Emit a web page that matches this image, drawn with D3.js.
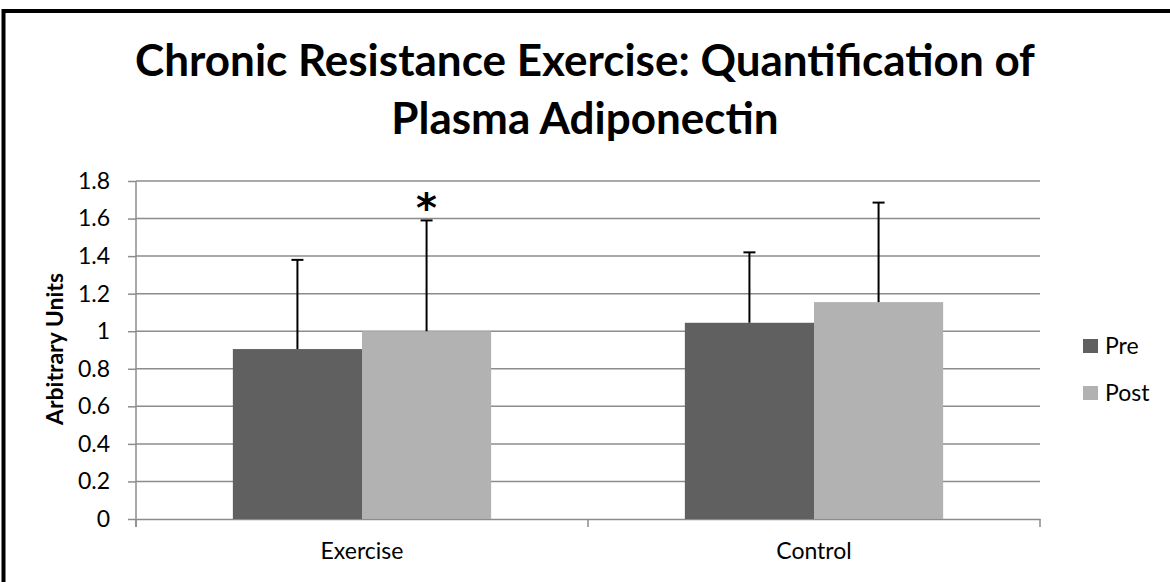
<!DOCTYPE html>
<html>
<head>
<meta charset="utf-8">
<script src="https://cdn.jsdelivr.net/npm/d3@7"></script>
<style>
  body { margin: 0; background: #fff; }
  text { font-family: Lato, "Open Sans", sans-serif; fill: #000; }
</style>
</head>
<body>
<div id="chart"></div>
<script>
// data
var groups = ["Exercise", "Control"];
var seriesNames = ["Pre", "Post"];
var preValues = [0.905, 1.045];
var postValues = [1.0, 1.155];
var preErr = [0.475, 0.375];
var postErr = [0.59, 0.53];
var yTicks = [0, 0.2, 0.4, 0.6, 0.8, 1, 1.2, 1.4, 1.6, 1.8];
var colors = ["#606060", "#b2b2b2"];

var W = 1170, H = 582;
var margin = {top: 181, right: 130, bottom: 63, left: 136},
    width = W - margin.left - margin.right,
    height = H - margin.top - margin.bottom;

var svg = d3.select("#chart").append("svg")
    .attr("width", W).attr("height", H);

// outer frame (right and bottom edges fall off the picture)
svg.append("rect")
    .attr("x", 3.5).attr("y", 11)
    .attr("width", W + 20).attr("height", H + 20)
    .attr("fill", "none").attr("stroke", "#000").attr("stroke-width", 4);

svg.append("text")
    .attr("x", 585).attr("y", 76)
    .attr("text-anchor", "middle")
    .style("font-size", "44px").style("font-weight", "bold")
    .text("Chronic Resistance Exercise: Quantification of");
svg.append("text")
    .attr("x", 585).attr("y", 134)
    .attr("text-anchor", "middle")
    .style("font-size", "44px").style("font-weight", "bold")
    .text("Plasma Adiponectin");

var g = svg.append("g")
    .attr("transform", "translate(" + margin.left + "," + margin.top + ")");

var x0 = d3.scaleBand().domain(groups).range([0, width]).paddingInner(0).paddingOuter(0);
// gap width 150% -> each bar = band / 3.5
var barW = x0.bandwidth() / 3.5;
var x1 = d3.scaleBand().domain(seriesNames)
    .range([x0.bandwidth() / 2 - barW, x0.bandwidth() / 2 + barW]);

var y = d3.scaleLinear().domain([0, 1.8]).range([height, 0]);

// gridlines
g.selectAll(".grid").data(yTicks.slice(1)).enter().append("line")
    .attr("x1", 0).attr("x2", width)
    .attr("y1", function(d) { return y(d); })
    .attr("y2", function(d) { return y(d); })
    .attr("stroke", "#8c8c8c").attr("stroke-width", 1.5);

// y axis
var yAxis = g.append("g")
    .call(d3.axisLeft(y).tickValues(yTicks).tickSize(8).tickPadding(18)
        .tickFormat(function(d) { return String(d); }));
yAxis.selectAll("line").attr("stroke", "#8c8c8c").attr("stroke-width", 1.5);
yAxis.select(".domain").attr("stroke", "#8c8c8c").attr("stroke-width", 1.5)
    .attr("d", "M0,0V" + (height + 8));
yAxis.selectAll("text").style("font-size", "23px").style("font-family", "Lato, sans-serif").attr("fill", "#000");

// x axis
var xAxis = g.append("g")
    .attr("transform", "translate(0," + height + ")")
    .call(d3.axisBottom(x0).tickSize(0).tickPadding(24));
xAxis.select(".domain").attr("stroke", "#8c8c8c").attr("stroke-width", 1.5);
xAxis.selectAll("text").style("font-size", "23px").style("font-family", "Lato, sans-serif").attr("fill", "#000");
// category divider ticks
g.selectAll(".xt").data([0, width / 2, width]).enter().append("line")
    .attr("x1", function(d) { return d; }).attr("x2", function(d) { return d; })
    .attr("y1", height).attr("y2", height + 8)
    .attr("stroke", "#8c8c8c").attr("stroke-width", 1.5);

var rows = [];
groups.forEach(function(gr, i) {
    rows.push({group: gr, s: "Pre", v: preValues[i], e: preErr[i], c: colors[0]});
    rows.push({group: gr, s: "Post", v: postValues[i], e: postErr[i], c: colors[1]});
});

g.selectAll(".bar").data(rows).enter().append("rect")
    .attr("x", function(d) { return x0(d.group) + x1(d.s); })
    .attr("width", x1.bandwidth())
    .attr("y", function(d) { return y(d.v); })
    .attr("height", function(d) { return height - y(d.v); })
    .attr("fill", function(d) { return d.c; });

// error bars (upper only)
var cx = function(d) { return x0(d.group) + x1(d.s) + x1.bandwidth() / 2; };
g.selectAll(".err").data(rows).enter().append("line")
    .attr("x1", cx).attr("x2", cx)
    .attr("y1", function(d) { return y(d.v); })
    .attr("y2", function(d) { return y(d.v + d.e); })
    .attr("stroke", "#000").attr("stroke-width", 2);
g.selectAll(".cap").data(rows).enter().append("line")
    .attr("x1", function(d) { return cx(d) - 6; })
    .attr("x2", function(d) { return cx(d) + 6; })
    .attr("y1", function(d) { return y(d.v + d.e); })
    .attr("y2", function(d) { return y(d.v + d.e); })
    .attr("stroke", "#000").attr("stroke-width", 2);

// significance mark over Exercise Post
var star = rows[1];
g.append("text")
    .attr("x", cx(star)).attr("y", y(star.v + star.e) + 2)
    .attr("text-anchor", "middle")
    .style("font-size", "40px").style("font-weight", "bold")
    .style("font-family", "'DejaVu Sans', sans-serif")
    .text("*");

// y label
svg.append("text")
    .attr("transform", "translate(63,349) rotate(-90)")
    .attr("text-anchor", "middle")
    .style("font-size", "23px").style("font-weight", "bold")
    .text("Arbitrary Units");

// legend
var leg = svg.selectAll(".leg").data(seriesNames).enter().append("g")
    .attr("transform", function(d, i) { return "translate(1083," + (339 + i * 47) + ")"; });
leg.append("rect").attr("width", 15).attr("height", 14)
    .attr("fill", function(d, i) { return colors[i]; });
leg.append("text").attr("x", 22).attr("y", 15)
    .style("font-size", "23px").text(function(d) { return d; });
</script>
</body>
</html>
